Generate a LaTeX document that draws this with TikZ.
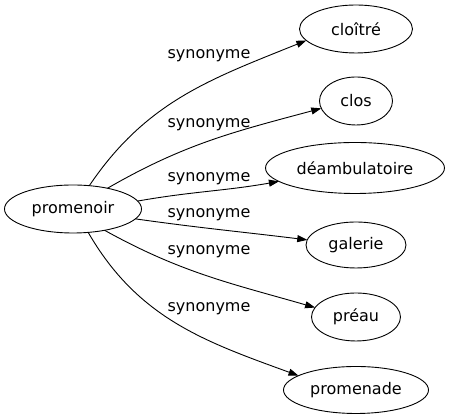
\documentclass[tikz,border=0pt]{standalone}
\usepackage{fontspec}
\setmainfont{DejaVu Sans}
\usetikzlibrary{shapes.geometric,arrows.meta}
\begin{document}
\begin{tikzpicture}[x=1pt,y=1pt,line join=round,
	font=\fontsize{16}{19}\selectfont,
	mot/.style={ellipse,draw,line width=0.9pt,inner sep=0pt,outer sep=0pt,minimum height=48pt},
	lien/.style={line width=0.9pt,-{Triangle[length=10pt,width=7pt]}},
	syn/.style={inner sep=0pt}]
	\useasboundingbox (0,0) rectangle (451,419);
	\node[mot,minimum width=137pt] (promenoir) at (73,210) {promenoir};
	\node[mot,minimum width=113pt] (cloitre) at (356,390) {cloîtré};
	\node[mot,minimum width=73pt] (clos) at (356,318) {clos};
	\node[mot,minimum width=179pt,minimum height=51pt] (deambulatoire) at (355,251) {déambulatoire};
	\node[mot,minimum width=100pt,minimum height=46pt] (galerie) at (356,174) {galerie};
	\node[mot,minimum width=89pt] (preau) at (356,102) {préau};
	\node[mot,minimum width=145pt,minimum height=47pt] (promenade) at (356,29) {promenade};
	% liens
	\draw[lien] (promenoir.55) to[out=56,in=202] (cloitre.193);
	\draw[lien] (promenoir.31) to[out=30,in=195] (clos.192);
	\draw[lien] (promenoir.7) to[out=10,in=190] (deambulatoire.190);
	\draw[lien] (promenoir.-9) to[out=-8,in=173] (galerie.174);
	\draw[lien] (promenoir.-34) to[out=-29,in=164] (preau.167);
	\draw[lien] (promenoir.-57) to[out=-60,in=160] (promenade.166);
	% etiquettes
	\node[syn] (s1) at (209,363) {synonyme};
	\node[syn] (s2) at (209,294) {synonyme};
	\node[syn] (s3) at (209,240) {synonyme};
	\node[syn] (s4) at (209,204) {synonyme};
	\node[syn] (s5) at (209,167) {synonyme};
	\node[syn] (s6) at (209,110) {synonyme};
\end{tikzpicture}
\end{document}
